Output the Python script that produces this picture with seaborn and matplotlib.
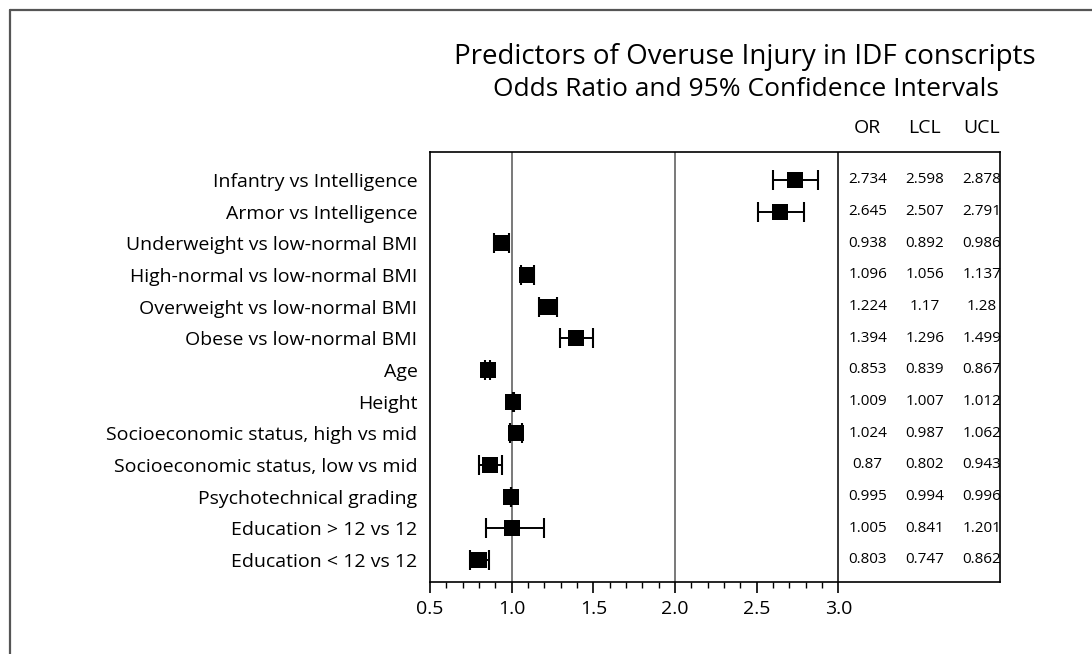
import numpy as np
import pandas as pd
import seaborn as sns
import matplotlib.pyplot as plt
from matplotlib.lines import Line2D

# data
labels = ['Infantry vs Intelligence', 'Armor vs Intelligence',
          'Underweight vs low-normal BMI', 'High-normal vs low-normal BMI',
          'Overweight vs low-normal BMI', 'Obese vs low-normal BMI',
          'Age', 'Height',
          'Socioeconomic status, high vs mid', 'Socioeconomic status, low vs mid',
          'Psychotechnical grading', 'Education > 12 vs 12', 'Education < 12 vs 12']
odds = [2.734, 2.645, 0.938, 1.096, 1.224, 1.394, 0.853, 1.009, 1.024, 0.87, 0.995, 1.005, 0.803]
lcl = [2.598, 2.507, 0.892, 1.056, 1.17, 1.296, 0.839, 1.007, 0.987, 0.802, 0.994, 0.841, 0.747]
ucl = [2.878, 2.791, 0.986, 1.137, 1.28, 1.499, 0.867, 1.012, 1.062, 0.943, 0.996, 1.201, 0.862]
table_cols = ['OR', 'LCL', 'UCL']
table_x = [3.18, 3.53, 3.88]
ref_lines = [1.0, 2.0, 3.0]
xticks = [0.5, 1.0, 1.5, 2.0, 2.5, 3.0]

df = pd.DataFrame({'label': labels, 'OR': odds, 'LCL': lcl, 'UCL': ucl})
df['row'] = np.arange(len(df))

sns.set_style('white')
plt.rcParams['font.family'] = ['Open Sans', 'DejaVu Sans']
plt.rcParams['text.color'] = 'black'
plt.rcParams['xtick.color'] = 'black'
plt.rcParams['ytick.color'] = 'black'
plt.rcParams['axes.labelcolor'] = 'black'

fig = plt.figure(figsize=(10.92, 6.54), dpi=100)
ax = fig.add_axes([430 / 1092, 1 - 582 / 654, 570 / 1092, 430 / 654])

for xv in ref_lines:
    ax.axvline(xv, color='#555555' if xv < 3 else 'black', lw=1.1, zorder=1)

sns.scatterplot(data=df, x='OR', y='row', marker='s', s=120, color='black',
                edgecolor='black', linewidth=0, ax=ax, zorder=2, legend=False)
ax.errorbar(df['OR'], df['row'], xerr=[df['OR'] - df['LCL'], df['UCL'] - df['OR']],
            fmt='none', ecolor='black', elinewidth=1.4, capsize=7.5, capthick=1.5, zorder=3)

ax.set_xlim(0.5, 3.99)
ax.set_ylim(len(df) - 1 + 0.7, -0.88)
ax.set_xticks(xticks)
ax.set_xticklabels([f'{v:.1f}' for v in xticks], fontsize=14)
ax.xaxis.set_minor_locator(plt.FixedLocator([v / 10 for v in range(5, 31) if v % 5]))
ax.tick_params(axis='x', which='major', direction='out', length=8, width=1.2, bottom=True, pad=5)
ax.tick_params(axis='x', which='minor', direction='out', length=4, width=1.0, bottom=True)
ax.set_yticks(df['row'])
ax.set_yticklabels(df['label'], fontsize=14)
ax.tick_params(axis='y', length=0, pad=9)
ax.set_xlabel('')
ax.set_ylabel('')
for sp in ax.spines.values():
    sp.set_color('black')
    sp.set_linewidth(1.2)

# table columns inside the box
for col, xv in zip(table_cols, table_x):
    ax.text(xv, -1.64, col, ha='center', va='center', fontsize=14, clip_on=False)
    for r, v in zip(df['row'], df[col]):
        ax.text(xv, r, f'{v:g}', ha='center', va='center', fontsize=11)

fig.text(745 / 1092, 1 - 57 / 654, 'Predictors of Overuse Injury in IDF conscripts',
         ha='center', va='center', fontsize=20)
fig.text(746 / 1092, 1 - 89 / 654, 'Odds Ratio and 95% Confidence Intervals',
         ha='center', va='center', fontsize=19)

# outer frame (only left and top edges fall inside the image)
fig.add_artist(Line2D([10 / 1092, 10 / 1092], [0, 1 - 10 / 654], transform=fig.transFigure,
                      color='#555555', lw=1.6))
fig.add_artist(Line2D([10 / 1092, 1], [1 - 10 / 654, 1 - 10 / 654], transform=fig.transFigure,
                      color='#555555', lw=1.6))

fig.savefig('out.png', dpi=100)
